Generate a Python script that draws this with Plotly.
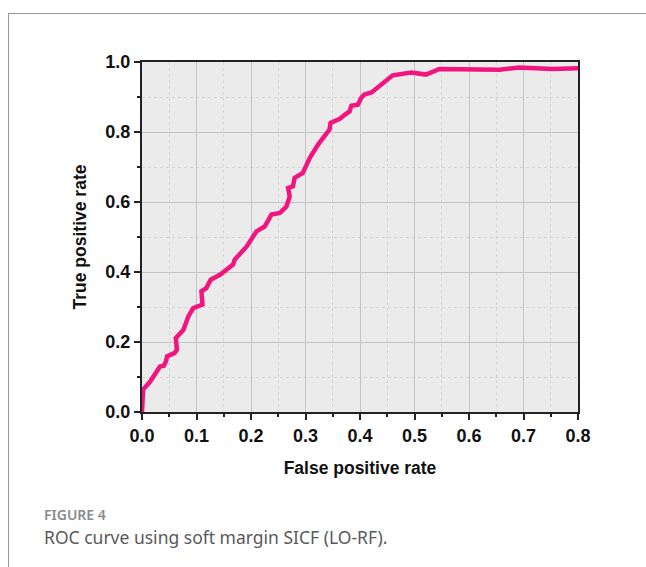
import plotly.graph_objects as go

fpr = [0.0, 0.002, 0.015, 0.033, 0.040, 0.044, 0.046, 0.060, 0.064, 0.062, 0.076, 0.085, 0.094, 0.111,
       0.109, 0.118, 0.126, 0.143, 0.167, 0.170, 0.192, 0.201, 0.210, 0.225, 0.2375, 0.253, 0.265, 0.271,
       0.268, 0.277, 0.280, 0.295, 0.308, 0.323, 0.338, 0.344, 0.346, 0.363, 0.372, 0.381, 0.384, 0.396,
       0.402, 0.408, 0.421, 0.442, 0.460, 0.494, 0.521, 0.546, 0.601, 0.656, 0.692, 0.753, 0.800]
tpr = [0.0, 0.064, 0.087, 0.130, 0.132, 0.145, 0.159, 0.169, 0.178, 0.211, 0.235, 0.273, 0.297, 0.307,
       0.345, 0.354, 0.378, 0.392, 0.421, 0.435, 0.473, 0.492, 0.516, 0.530, 0.564, 0.569, 0.587, 0.616,
       0.640, 0.645, 0.669, 0.683, 0.726, 0.764, 0.792, 0.807, 0.826, 0.838, 0.849, 0.859, 0.875, 0.878,
       0.897, 0.907, 0.913, 0.940, 0.962, 0.970, 0.964, 0.980, 0.978, 0.978, 0.984, 0.980, 0.982]

x_title = "False positive rate"
y_title = "True positive rate"
fig_label = "FIGURE 4"
caption = "ROC curve using soft margin SICF (LO-RF)."

W, H = 646, 567
L, R, T, B = 142, 68, 62, 155
pw, ph = W - L - R, H - T - B


def px(xp):
    return (xp - L) / pw


def py(yp):
    return (H - B - yp) / ph


fig = go.Figure()
fig.add_trace(go.Scatter(x=fpr, y=tpr, mode="lines",
                         line=dict(color="#f2157f", width=4.5), showlegend=False))

tickfont = dict(family="Liberation Sans, Arial", size=18, color="#111", weight="bold")
titlefont = dict(family="Liberation Sans, Arial", size=17.5, color="#111", weight="bold")

fig.update_xaxes(range=[0, 0.8], dtick=0.1, tick0=0, tickformat=".1f",
                 showline=True, linecolor="#222", linewidth=2, mirror=True,
                 ticks="outside", ticklen=6, tickwidth=1.5, tickcolor="#222",
                 showgrid=True, gridcolor="#c4c4c4", gridwidth=1, zeroline=False,
                 minor=dict(dtick=0.05, ticks="outside", ticklen=3, tickcolor="#222",
                            showgrid=True, gridcolor="#d6d6d6", griddash="dot"),
                 tickfont=tickfont,
                 title=dict(text=x_title, font=titlefont, standoff=17))
fig.update_yaxes(range=[0, 1.0], dtick=0.2, tick0=0, tickformat=".1f",
                 showline=True, linecolor="#222", linewidth=2, mirror=True,
                 ticks="outside", ticklen=6, tickwidth=1.5, tickcolor="#222",
                 showgrid=True, gridcolor="#c4c4c4", gridwidth=1, zeroline=False,
                 minor=dict(dtick=0.1, ticks="outside", ticklen=3, tickcolor="#222",
                            showgrid=True, gridcolor="#d6d6d6", griddash="dot"),
                 tickfont=tickfont,
                 title=dict(text=y_title, font=titlefont, standoff=14))

shapes = [
    dict(type="line", xref="paper", yref="paper", x0=px(8), x1=px(W), y0=py(13.5), y1=py(13.5),
         line=dict(color="#999", width=1)),
    dict(type="line", xref="paper", yref="paper", x0=px(8.5), x1=px(8.5), y0=py(13), y1=py(H),
         line=dict(color="#999", width=1)),
]

annotations = [
    dict(text=fig_label, xref="paper", yref="paper", x=px(42), y=py(514), xanchor="left",
         yanchor="middle", showarrow=False,
         font=dict(family="Noto Sans, Open Sans", size=14, color="#8a8a8a", weight=600)),
    dict(text=caption, xref="paper", yref="paper", x=px(42), y=py(537), xanchor="left",
         yanchor="middle", showarrow=False,
         font=dict(family="Noto Sans, Open Sans", size=17.5, color="#5a5a5a")),
]

fig.update_layout(width=W, height=H, margin=dict(l=L, r=R, t=T, b=B, autoexpand=False),
                  paper_bgcolor="white", plot_bgcolor="#ebebeb",
                  shapes=shapes, annotations=annotations)

fig.write_html("out.html")
